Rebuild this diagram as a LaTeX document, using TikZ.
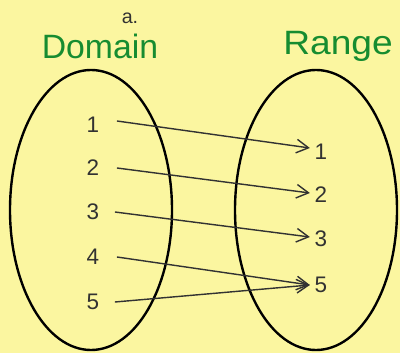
\documentclass[tikz,border=0pt]{standalone}
\usepackage{fontspec}
\setmainfont{Liberation Sans}
\usepackage{xcolor}
\usetikzlibrary{arrows.meta, positioning}
\definecolor{padyellow}{RGB}{251, 246, 160}
\definecolor{markgreen}{RGB}{22, 140, 48}
\definecolor{pencil}{RGB}{50, 50, 50}

\begin{document}
\begin{tikzpicture}[
    x=0.025cm, y=-0.025cm,
    setline/.style={line width=1.7pt, black},
    num/.style={font=\fontsize{16}{18}\selectfont, text=pencil, inner sep=1pt},
    title/.style={font=\fontsize{24}{28}\selectfont, text=markgreen},
    arr/.style={-{Straight Barb[length=3mm, width=3.4mm]}, line width=1pt, pencil}
]
\fill[padyellow] (0,0) rectangle (400,353);
\useasboundingbox (0,0) rectangle (400,353);

% headings
\node[font=\fontsize{14}{16}\selectfont, text=pencil] (lbl) at (130,18) {a.};
\node[title] (domt) at (100,46) {Domain};
\node[title, xscale=1.1] (rngt) at (338,46) {Range};

% the two sets
\draw[setline] (91,210) ellipse (81 and 140);
\draw[setline] (316,210) ellipse (81 and 140);

% domain elements
\node[num] (d1) at (93,125) {1};
\node[num] (d2) at (93,168) {2};
\node[num] (d3) at (93,212) {3};
\node[num] (d4) at (93,257) {4};
\node[num] (d5) at (93,302) {5};

% range elements
\node[num] (r1) at (321,152) {1};
\node[num] (r2) at (321,195) {2};
\node[num] (r3) at (321,239) {3};
\node[num] (r5) at (321,285) {5};

\draw[arr] ([xshift=0.4cm, yshift=0.1cm]d1.east) -- ([xshift=-0.08cm, yshift=0.1cm]r1.west);
\draw[arr] ([xshift=0.4cm]d2.east) -- ([xshift=-0.08cm, yshift=0.05cm]r2.west);
\draw[arr] ([xshift=0.35cm]d3.east) -- ([xshift=-0.08cm, yshift=0.05cm]r3.west);
\draw[arr] ([xshift=0.4cm]d4.east) -- ([xshift=-0.08cm]r5.west);
\draw[arr] ([xshift=0.35cm]d5.east) -- ([xshift=-0.08cm]r5.west);

\end{tikzpicture}
\end{document}
